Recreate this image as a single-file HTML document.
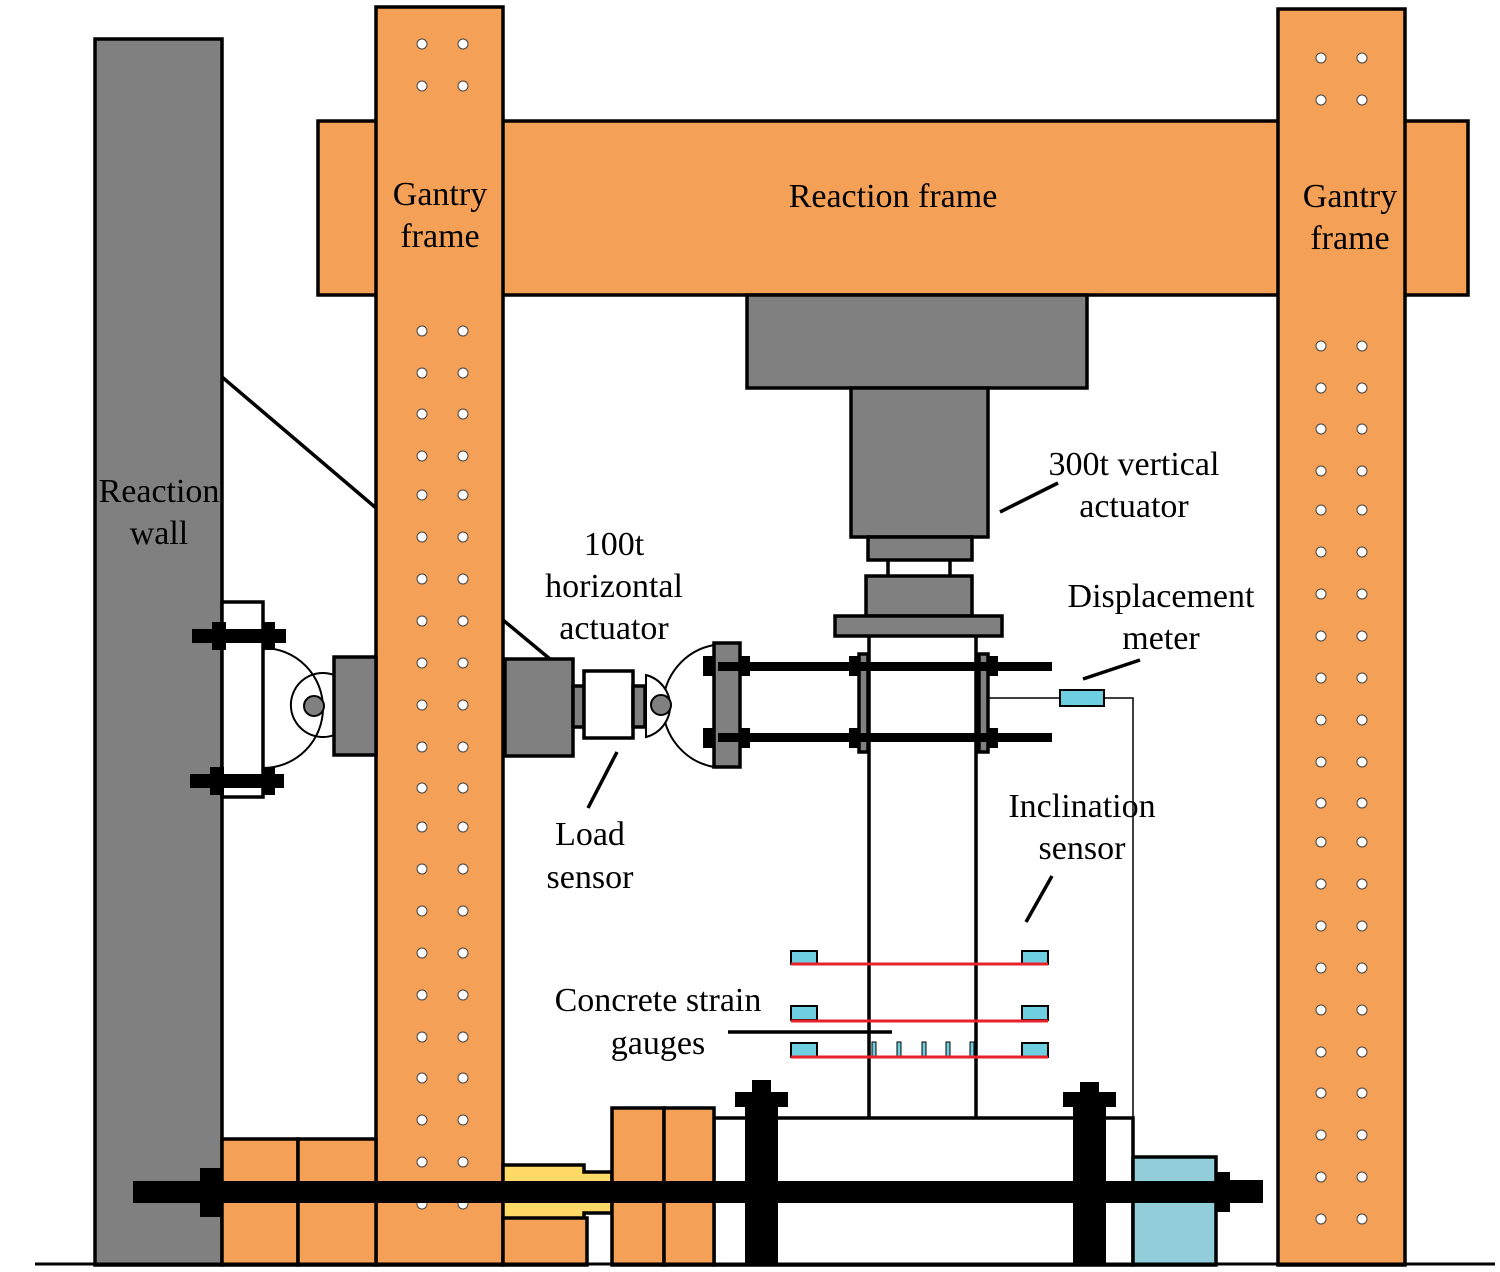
<!DOCTYPE html>
<html><head><meta charset="utf-8"><style>html,body{margin:0;padding:0;background:#fff}svg{display:block}</style></head><body>
<svg width="1500" height="1272" viewBox="0 0 1500 1272" xmlns="http://www.w3.org/2000/svg" font-family="Liberation Serif, serif" font-size="34" text-anchor="middle">
<g stroke="#000" stroke-width="3.5">
<rect x="95" y="39" width="127" height="1226" fill="#808080"/>
<rect x="318" y="121" width="1150" height="174" fill="#F4A057"/>
<rect x="376" y="7" width="127" height="1258" fill="#F4A057"/>
<rect x="1278" y="9" width="127" height="1256" fill="#F4A057"/>
<rect x="747" y="295" width="340" height="93" fill="#808080"/>
<rect x="851" y="388" width="137" height="149" fill="#808080"/>
<rect x="868" y="537" width="104" height="23" fill="#808080"/>
<line x1="888" y1="560" x2="888" y2="576"/><line x1="950" y1="560" x2="950" y2="576"/>
<rect x="866" y="576" width="106" height="40" fill="#808080"/>
<rect x="835" y="616" width="167" height="20" fill="#808080"/>
<line x1="869" y1="636" x2="869" y2="1120"/><line x1="976" y1="636" x2="976" y2="1120"/>
<line x1="222" y1="377" x2="376" y2="508"/>
<line x1="503" y1="620" x2="550" y2="659"/>
<rect x="222" y="602" width="41" height="195" fill="#fff"/>
<path d="M263 648 A60 60 0 0 1 263 768" fill="none" stroke-width="2"/>
<path d="M334 675 A32 32 0 1 0 334 735" fill="none" stroke-width="2"/>
<circle cx="314" cy="706" r="10" fill="#808080" stroke-width="2"/>
<rect x="334" y="657" width="42" height="98" fill="#808080"/>
<rect x="505" y="659" width="68" height="97" fill="#808080"/>
<rect x="573" y="686" width="11" height="41" fill="#808080"/>
<rect x="584" y="671" width="49" height="67" fill="#fff"/>
<rect x="633" y="686" width="12" height="41" fill="#808080"/>
<path d="M714 645 A62 62 0 0 0 714 767" fill="none" stroke-width="2"/>
<path d="M646 675 A32 32 0 0 1 646 737 Z" fill="#fff" stroke-width="2"/>
<circle cx="661" cy="705" r="10" fill="#808080" stroke-width="2"/>
<rect x="714" y="643" width="26" height="124" fill="#808080"/>
<polyline points="988,698 1060,698" fill="none" stroke-width="1.5"/>
<polyline points="1104,698 1133,698 1133,1158" fill="none" stroke-width="1.5"/>
<rect x="1060" y="690" width="44" height="16" fill="#6ECFE0" stroke-width="2"/>
<rect x="859" y="654" width="9" height="98" fill="#808080"/>
<rect x="979" y="654" width="9" height="98" fill="#808080"/>
<line x1="1000" y1="512" x2="1058" y2="483"/>
<line x1="1083" y1="679" x2="1140" y2="660"/>
<line x1="1026" y1="922" x2="1052" y2="876"/>
<line x1="588" y1="808" x2="617" y2="752"/>
<line x1="728" y1="1032" x2="892" y2="1032"/>
<rect x="714" y="1118" width="419" height="147" fill="#fff"/>
<rect x="222" y="1139" width="76" height="126" fill="#F4A057"/>
<rect x="298" y="1139" width="78" height="126" fill="#F4A057"/>
<path d="M503 1165 H584 V1172 H612 V1213 H584 V1220 H503 Z" fill="#FFD966"/>
<rect x="503" y="1218" width="84" height="47" fill="#F4A057"/>
<rect x="612" y="1108" width="52" height="157" fill="#F4A057"/>
<rect x="664" y="1108" width="50" height="157" fill="#F4A057"/>
<rect x="1133" y="1157" width="83" height="108" fill="#92CDDA"/>
</g>
<g fill="#fff" stroke="#444" stroke-width="1">
<circle cx="422" cy="44" r="5"/><circle cx="463" cy="44" r="5"/><circle cx="422" cy="86" r="5"/><circle cx="463" cy="86" r="5"/>
<circle cx="1321" cy="58" r="5"/><circle cx="1362" cy="58" r="5"/><circle cx="1321" cy="100" r="5"/><circle cx="1362" cy="100" r="5"/>
<g id="ld">
<circle cx="422" cy="331" r="5"/><circle cx="422" cy="373" r="5"/><circle cx="422" cy="414" r="5"/><circle cx="422" cy="456" r="5"/><circle cx="422" cy="495" r="5"/><circle cx="422" cy="537" r="5"/><circle cx="422" cy="579" r="5"/><circle cx="422" cy="621" r="5"/><circle cx="422" cy="663" r="5"/><circle cx="422" cy="705" r="5"/><circle cx="422" cy="747" r="5"/><circle cx="422" cy="788" r="5"/><circle cx="422" cy="827" r="5"/><circle cx="422" cy="869" r="5"/><circle cx="422" cy="911" r="5"/><circle cx="422" cy="953" r="5"/><circle cx="422" cy="995" r="5"/><circle cx="422" cy="1037" r="5"/><circle cx="422" cy="1078" r="5"/><circle cx="422" cy="1120" r="5"/><circle cx="422" cy="1162" r="5"/><circle cx="422" cy="1204" r="5"/>
</g>
<use href="#ld" x="41"/>
<use href="#ld" x="899" y="15"/>
<use href="#ld" x="940" y="15"/>
</g>
<g fill="#000">
<rect x="133" y="1181" width="1130" height="22"/>
<rect x="200" y="1168" width="22" height="49"/>
<rect x="1216" y="1172" width="14" height="40"/><rect x="1230" y="1180" width="33" height="23"/>
<rect x="745" y="1092" width="33" height="173"/><rect x="735" y="1092" width="53" height="15"/><rect x="752" y="1080" width="19" height="14"/>
<rect x="1073" y="1092" width="33" height="173"/><rect x="1063" y="1092" width="53" height="15"/><rect x="1080" y="1082" width="19" height="12"/>
<rect x="192" y="629" width="94" height="14"/><rect x="212" y="622" width="14" height="28"/><rect x="263" y="622" width="12" height="28"/>
<rect x="190" y="774" width="94" height="14"/><rect x="210" y="767" width="14" height="28"/><rect x="263" y="767" width="12" height="28"/>
<rect x="718" y="662" width="334" height="9"/>
<rect x="718" y="733" width="334" height="9"/>
<rect x="703" y="656" width="12" height="20"/><rect x="740" y="656" width="10" height="20"/>
<rect x="703" y="728" width="12" height="20"/><rect x="740" y="728" width="10" height="20"/>
<rect x="849" y="656" width="10" height="20"/><rect x="988" y="656" width="10" height="20"/>
<rect x="849" y="728" width="10" height="20"/><rect x="988" y="728" width="10" height="20"/>
</g>
<line x1="35" y1="1264" x2="1495" y2="1264" stroke="#000" stroke-width="3"/>
<g fill="#6ECFE0" stroke="#000" stroke-width="2">
<rect x="791" y="951" width="26" height="13"/><rect x="1022" y="951" width="26" height="13"/>
<rect x="791" y="1006" width="26" height="14"/><rect x="1022" y="1006" width="26" height="14"/>
<rect x="791" y="1043" width="26" height="14"/><rect x="1022" y="1043" width="26" height="14"/>
<g stroke-width="1"><rect x="872" y="1042" width="4" height="15"/><rect x="897" y="1042" width="4" height="15"/><rect x="922" y="1042" width="4" height="15"/><rect x="946" y="1042" width="4" height="15"/><rect x="970" y="1042" width="4" height="15"/></g>
</g>
<g stroke="#E8222A" stroke-width="3">
<line x1="791" y1="964" x2="1048" y2="964"/><line x1="791" y1="1021" x2="1048" y2="1021"/><line x1="791" y1="1057" x2="1048" y2="1057"/>
</g>
<g fill="#000">
<text x="440" y="205">Gantry</text><text x="440" y="247">frame</text>
<text x="1350" y="207">Gantry</text><text x="1350" y="249">frame</text>
<text x="893" y="207">Reaction frame</text>
<text x="159" y="502">Reaction</text><text x="159" y="544">wall</text>
<text x="614" y="555">100t</text><text x="614" y="597">horizontal</text><text x="614" y="639">actuator</text>
<text x="590" y="845">Load</text><text x="590" y="888">sensor</text>
<text x="1134" y="475">300t vertical</text><text x="1134" y="517">actuator</text>
<text x="1161" y="607">Displacement</text><text x="1161" y="649">meter</text>
<text x="1082" y="817">Inclination</text><text x="1082" y="859">sensor</text>
<text x="658" y="1011">Concrete strain</text><text x="658" y="1054">gauges</text>
</g>
</svg>
</body></html>
